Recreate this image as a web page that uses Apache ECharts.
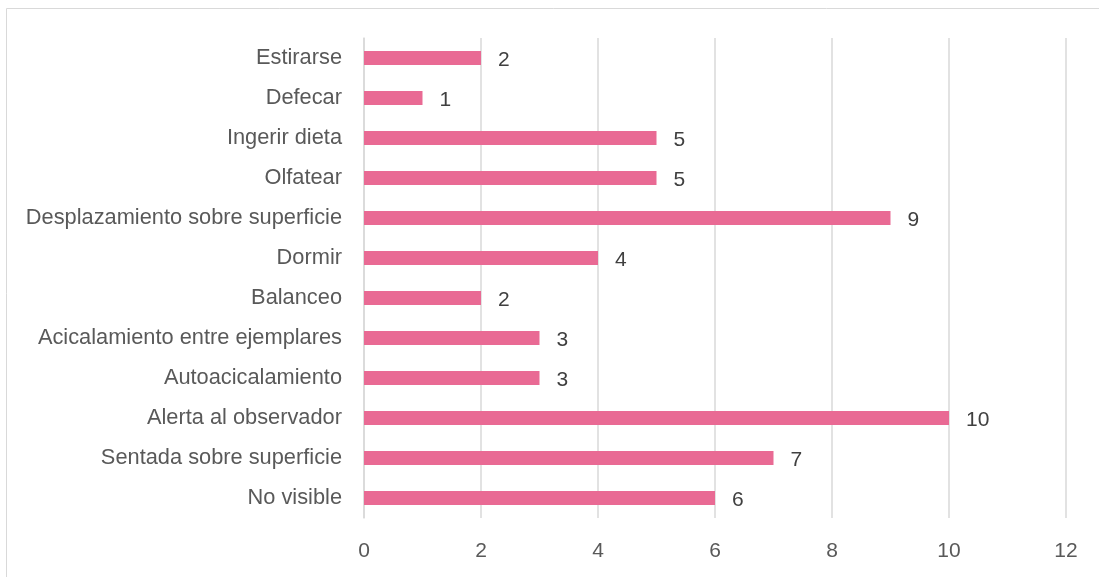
<!DOCTYPE html>
<html><head><meta charset="utf-8">
<script src="https://cdn.jsdelivr.net/npm/echarts@6/dist/echarts.min.js"></script>
<style>html,body{margin:0;padding:0;background:#fff}#c{width:1099px;height:577px}</style>
</head><body><div id="c"></div>
<script>
const categories = ["No visible","Sentada sobre superficie","Alerta al observador","Autoacicalamiento","Acicalamiento entre ejemplares","Balanceo","Dormir","Desplazamiento sobre superficie","Olfatear","Ingerir dieta","Defecar","Estirarse"];
const values = [6,7,10,3,3,2,4,9,5,5,1,2];
const xTicks = [0,2,4,6,8,10,12];

const chart = echarts.init(document.getElementById('c'));
const font = '"Liberation Sans", "Noto Sans", sans-serif';
chart.setOption({
  animation: false,
  graphic: [{type:'rect', shape:{x:6.5,y:8.5,width:1100,height:600}, style:{fill:'none', stroke:'#d9d9d9', lineWidth:1}, silent:true, z:-1}],
  grid: {left:364, right:33, top:38, bottom:59, containLabel:false},
  xAxis: {
    type:'value', min:xTicks[0], max:xTicks[xTicks.length-1], interval:2,
    axisLine:{show:false}, axisTick:{show:false},
    splitLine:{show:true, lineStyle:{color:'#d9d9d9', width:1.5}},
    axisLabel:{color:'#595959', fontSize:21, fontFamily:font, margin:23}
  },
  yAxis: {
    type:'category', data:categories,
    axisLine:{show:true, lineStyle:{color:'#d9d9d9', width:1.5}}, axisTick:{show:false},
    axisLabel:{color:'#595959', fontSize:21.8, fontFamily:font, margin:22, padding:[2,0,0,0]}
  },
  series: [{
    type:'bar', data:values, barWidth:14,
    itemStyle:{color:'#E96A94'},
    label:{show:true, position:'right', distance:17, color:'#404040', fontSize:21, fontFamily:font, offset:[0,2]}
  }]
});
</script></body></html>
